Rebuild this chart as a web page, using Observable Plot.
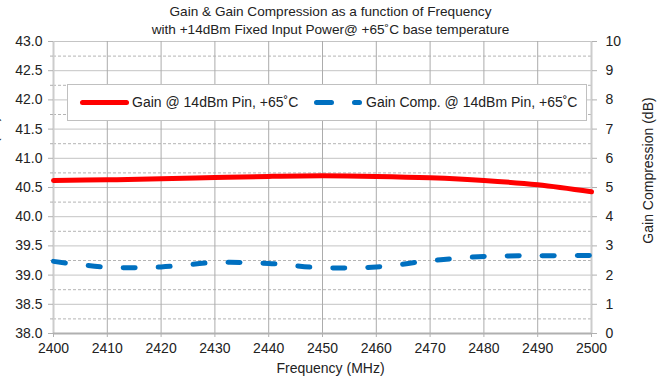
<!DOCTYPE html>
<html>
<head>
<meta charset="utf-8">
<script src="https://cdn.jsdelivr.net/npm/d3@7"></script>
<script src="https://cdn.jsdelivr.net/npm/@observablehq/plot@0.6"></script>
<style>
  html, body { margin: 0; padding: 0; background: #fff; }
  #wrap { position: relative; width: 661px; height: 381px; font-family: "Liberation Sans", Arial, sans-serif; color: #222; }
  #title { position: absolute; left: 0; top: 3px; width: 661px; text-align: center; font-size: 13.6px; line-height: 18px; }
  #legend { position: absolute; left: 67px; top: 84px; width: 518px; height: 35px; border: 1px solid #c0c0c0; background: #fff; font-size: 14px; }
  #legend .t { position: absolute; top: 9px; white-space: nowrap; line-height: 17px; }
  #legend svg { position: absolute; top: 0; }
</style>
</head>
<body>
<div id="wrap">
  <div id="chart"></div>
  <div id="title">Gain &amp; Gain Compression as a function of Frequency<br>with +14dBm Fixed Input Power@ +65˚C base temperature</div>
  <div id="legend"></div>
</div>
<script>
// ---- data ----
const freq = [2400, 2410, 2420, 2430, 2440, 2450, 2460, 2470, 2480, 2490, 2500];
const gain = [40.62, 40.632, 40.649, 40.671, 40.69, 40.70, 40.69, 40.666, 40.62, 40.546, 40.426];
const comp = [2.47, 2.27, 2.28, 2.43, 2.40, 2.25, 2.28, 2.49, 2.64, 2.66, 2.67];
const xTicks = [2400, 2410, 2420, 2430, 2440, 2450, 2460, 2470, 2480, 2490, 2500];
const leftTicks = [38.0, 38.5, 39.0, 39.5, 40.0, 40.5, 41.0, 41.5, 42.0, 42.5, 43.0];
const leftMinor = [38.25, 38.75, 39.25, 39.75, 40.25, 40.75, 41.25, 41.75, 42.25, 42.75];
const rightTicks = [0, 1, 2, 3, 4, 5, 6, 7, 8, 9, 10];
const seriesNames = ["Gain @ 14dBm Pin, +65˚C", "Gain Comp. @ 14dBm Pin, +65˚C"];
const colors = ["#ff0000", "#0070c0"];

// right axis (0..10) mapped onto left axis domain (38..43)
const toLeft = v => 38 + v / 2;

const data = freq.map((f, i) => ({f, gain: gain[i], comp: comp[i]}));

const chart = Plot.plot({
  width: 661,
  height: 381,
  marginLeft: 53,
  marginRight: 70,
  marginTop: 41,
  marginBottom: 48,
  style: {fontFamily: "Liberation Sans, Arial, sans-serif", fontSize: "14px", color: "#222", background: "white", overflow: "visible"},
  x: {domain: [2400, 2500]},
  y: {domain: [38, 43]},
  marks: [
    Plot.ruleY(leftMinor, {stroke: "#b4b4b4", strokeDasharray: "3,2"}),
    Plot.ruleY(leftTicks, {stroke: "#c4c4c4"}),
    Plot.ruleX(xTicks, {stroke: "#acacac"}),
    Plot.ruleX([2400, 2500], {stroke: "#cccccc", strokeWidth: 2}),
    Plot.ruleY([38], {stroke: "#b0b0b0", strokeWidth: 2}),
    Plot.axisX({ticks: xTicks, tickSize: 4, tickPadding: 6, stroke: "#b0b0b0", tickFormat: d => String(d), label: null}),
    Plot.axisY({anchor: "left", ticks: leftTicks, tickSize: 5, tickPadding: 6, stroke: "#b0b0b0", tickFormat: d => d.toFixed(1), label: null}),
    Plot.axisY({anchor: "left", ticks: leftMinor, tickSize: 3, stroke: "#b0b0b0", tickFormat: () => "", label: null}),
    Plot.axisY({anchor: "right", ticks: rightTicks.map(toLeft), tickSize: 5, tickPadding: 9, stroke: "#b0b0b0", tickFormat: d => String(Math.round((d - 38) * 2)), label: null}),
    Plot.line(data, {x: "f", y: "gain", stroke: colors[0], strokeWidth: 5, curve: "catmull-rom"}),
    Plot.line(data, {x: "f", y: d => toLeft(d.comp), stroke: colors[1], strokeWidth: 5, strokeDasharray: "12,23", strokeLinecap: "round", curve: "catmull-rom"}),
    Plot.text(["Frequency (MHz)"], {frameAnchor: "bottom", textAnchor: "middle", lineAnchor: "middle", dx: 8, dy: 35, fontSize: 14, fill: "#222"}),
    Plot.text(["Gain Compression (dB)"], {frameAnchor: "right", textAnchor: "middle", lineAnchor: "middle", dx: 57, dy: -17, rotate: -90, fontSize: 14, fill: "#222"}),
    Plot.text(["Gain (dB)"], {frameAnchor: "left", textAnchor: "middle", lineAnchor: "middle", dx: -59.5, dy: -41, rotate: -90, fontSize: 14, fill: "#222"})
  ]
});
document.getElementById("chart").appendChild(chart);

// legend
const lg = document.getElementById("legend");
const ns = "http://www.w3.org/2000/svg";
function sample(left, width, color, dash) {
  const s = document.createElementNS(ns, "svg");
  s.setAttribute("width", width + 6);
  s.setAttribute("height", 35);
  s.style.left = (left - 3) + "px";
  const l = document.createElementNS(ns, "line");
  l.setAttribute("x1", 3 + 2.5); l.setAttribute("x2", 3 + width - 2.5);
  l.setAttribute("y1", 17.5); l.setAttribute("y2", 17.5);
  l.setAttribute("stroke", color); l.setAttribute("stroke-width", 5);
  l.setAttribute("stroke-linecap", "round");
  if (dash) l.setAttribute("stroke-dasharray", dash);
  s.appendChild(l);
  lg.appendChild(s);
}
function label(left, text) {
  const t = document.createElement("div");
  t.className = "t"; t.style.left = left + "px"; t.textContent = text;
  lg.appendChild(t);
}
sample(12, 49, colors[0]);
label(64, seriesNames[0]);
sample(246, 48, colors[1], "15,23");
label(298, seriesNames[1]);
</script>
</body>
</html>
